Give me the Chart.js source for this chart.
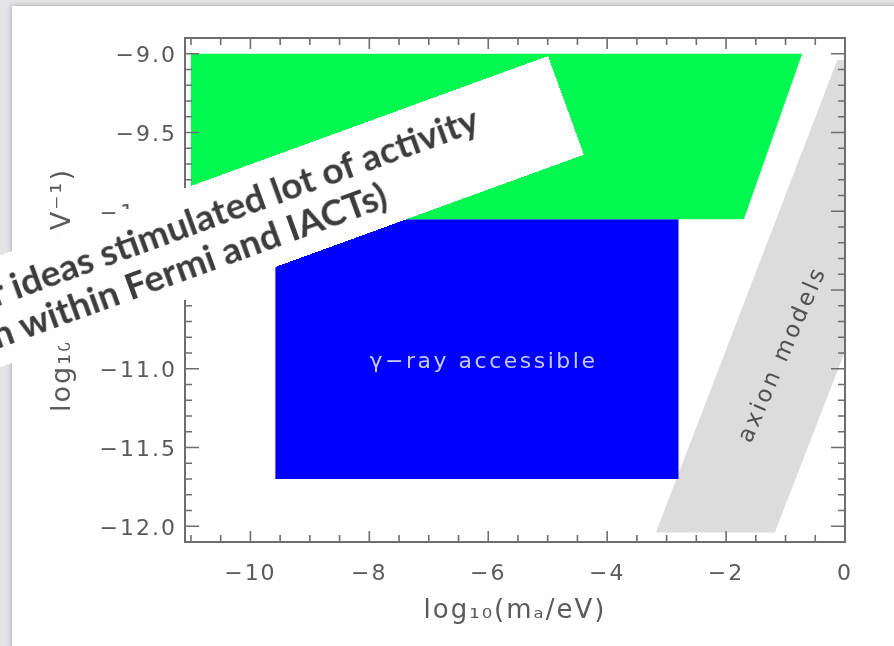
<!DOCTYPE html>
<html><head><meta charset="utf-8">
<script src="https://cdn.jsdelivr.net/npm/chart.js@4.4.1/dist/chart.umd.min.js"></script>
<style>
html,body{margin:0;padding:0;width:894px;height:646px;overflow:hidden;background:#e4e4e8;}
#panel{position:absolute;left:12px;top:6px;width:900px;height:660px;background:#fff;box-shadow:0 0 5px rgba(0,0,0,0.3);}
#c{position:absolute;left:0;top:0;}
#banner{position:absolute;left:-252px;top:56px;width:800px;height:105px;background:#fff;transform-origin:100% 0;transform:rotate(-20deg);font-family:Lato, "Open Sans", sans-serif;font-weight:bold;font-size:37px;color:#3c3c3c;}
.ln{position:absolute;white-space:nowrap;line-height:1;}
#l1{right:88px;top:14px;}
#l2{right:200px;top:54px;}
</style></head>
<body>
<div id="panel"></div>
<canvas id="c" width="894" height="646"></canvas>
<div id="banner"><span class="ln" id="l1">Other ideas stimulated lot of activity</span><span class="ln" id="l2">(research within Fermi and IACTs)</span></div>
<script>
const xMajorTicks = [-10, -8, -6, -4, -2, 0];
const xTickLabels = ['\u221210', '\u22128', '\u22126', '\u22124', '\u22122', '0'];
const yMajorTicks = [-12.0, -11.5, -11.0, -10.5, -10.0, -9.5, -9.0];
const yTickLabels = ['\u221212.0', '\u221211.5', '\u221211.0', '\u221210.5', '\u221210.0', '\u22129.5', '\u22129.0'];
const xTitle = 'log\u2081\u2080(m\u2090/eV)';
const yTitle = 'log\u2081\u2080(g\u2090\u1D67/GeV\u207B\u00B9)';

const greenX = [-11.0, -0.72, -1.70, -11.0];
const greenY = [-9.0, -9.0, -10.05, -10.05];
const blueX = [-9.58, -2.80, -2.80, -9.58];
const blueY = [-10.05, -10.05, -11.70, -11.70];
const grayX = [-3.18, -1.18, 1.9, -0.13];
const grayY = [-12.04, -12.04, -9.04, -9.04];

const regionLabels = ['\u03B3\u2212ray accessible', 'axion models'];
const regionLabelX = [-6.08, -1.04];
const regionLabelY = [-10.96, -10.91];

function pts(xs, ys){ return xs.map((v,i)=>({x:v, y:ys[i]})); }

Chart.defaults.font.family = '"DejaVu Sans", sans-serif';

const spacing = {
  id:'spacing',
  beforeDraw(chart){ chart.ctx.letterSpacing = '2px'; },
  afterDraw(chart){ chart.ctx.letterSpacing = '0px'; }
};

const frame = {
  id:'frame',
  afterDatasetsDraw(chart){
    const {ctx, chartArea:a, scales:{x, y}} = chart;
    ctx.save();
    ctx.strokeStyle = '#6e6e6e';
    ctx.lineWidth = 1.6;
    ctx.beginPath();
    for (let k = 0; k <= 22; k++){
      const v = -11 + k*0.5;
      const px = x.getPixelForValue(v);
      const major = xMajorTicks.some(t => Math.abs(t - v) < 1e-6);
      const L = major ? 11 : 7;
      ctx.moveTo(px, a.bottom); ctx.lineTo(px, a.bottom - L);
      ctx.moveTo(px, a.top); ctx.lineTo(px, a.top + L);
    }
    for (let k = 0; k <= 32; k++){
      const v = -12.1 + k*0.1;
      const py = y.getPixelForValue(v);
      const major = yMajorTicks.some(t => Math.abs(t - v) < 1e-6);
      const L = major ? 14 : 7;
      ctx.moveTo(a.left, py); ctx.lineTo(a.left + L, py);
      ctx.moveTo(a.right, py); ctx.lineTo(a.right - L, py);
    }
    ctx.stroke();
    ctx.lineWidth = 2;
    ctx.strokeRect(a.left, a.top, a.right - a.left, a.bottom - a.top);

    // region labels
    ctx.textAlign = 'center';
    ctx.textBaseline = 'middle';
    ctx.font = '22px "DejaVu Sans"';
    ctx.letterSpacing = '2.5px';
    ctx.fillStyle = '#c4c8f2';
    ctx.fillText(regionLabels[0], x.getPixelForValue(regionLabelX[0]), y.getPixelForValue(regionLabelY[0]));
    ctx.save();
    ctx.translate(x.getPixelForValue(regionLabelX[1]), y.getPixelForValue(regionLabelY[1]));
    ctx.rotate(-66.5*Math.PI/180);
    ctx.font = '23px "DejaVu Sans"';
    ctx.letterSpacing = '3px';
    ctx.fillStyle = '#505050';
    ctx.fillText(regionLabels[1], 0, 0);
    ctx.restore();
    ctx.restore();
  }
};

new Chart(document.getElementById('c'), {
  type: 'scatter',
  data: {
    datasets: [
      {data: pts(greenX, greenY), showLine:true, fill:'shape', backgroundColor:'#00f850', borderWidth:0, pointRadius:0},
      {data: pts(blueX, blueY), showLine:true, fill:'shape', backgroundColor:'#0000ff', borderWidth:0, pointRadius:0},
      {data: pts(grayX, grayY), showLine:true, fill:'shape', backgroundColor:'#dcdcdc', borderWidth:0, pointRadius:0}
    ]
  },
  options: {
    responsive:false, animation:false, devicePixelRatio:1,
    layout:{padding:{left:0, right:49, top:38, bottom:0}},
    plugins:{legend:{display:false}, tooltip:{enabled:false}},
    scales:{
      x:{
        type:'linear', position:'bottom', min:-11.1, max:0,
        afterBuildTicks: s => { s.ticks = xMajorTicks.map(v => ({value:v})); },
        afterFit: s => { s.height = 104; },
        grid:{display:false, drawTicks:false},
        border:{display:false},
        ticks:{autoSkip:false, maxRotation:0, padding:19, color:'#5a5a5a', font:{size:22},
               callback:(v, i) => xTickLabels[i]},
        title:{display:true, text:xTitle, color:'#5a5a5a', font:{size:26}, padding:{top:0, bottom:19}}
      },
      y:{
        type:'linear', position:'left', min:-12.1, max:-8.9,
        afterBuildTicks: s => { s.ticks = yMajorTicks.map(v => ({value:v})); },
        afterFit: s => { s.width = 185; },
        grid:{display:false, drawTicks:false},
        border:{display:false},
        ticks:{autoSkip:false, padding:8, color:'#5a5a5a', font:{size:22}, labelOffset:3,
               callback:(v, i) => yTickLabels[i]},
        title:{display:true, text:yTitle, color:'#5a5a5a', font:{size:27}, padding:{top:47, bottom:0}}
      }
    }
  },
  plugins:[spacing, frame]
});
</script>
</body></html>
